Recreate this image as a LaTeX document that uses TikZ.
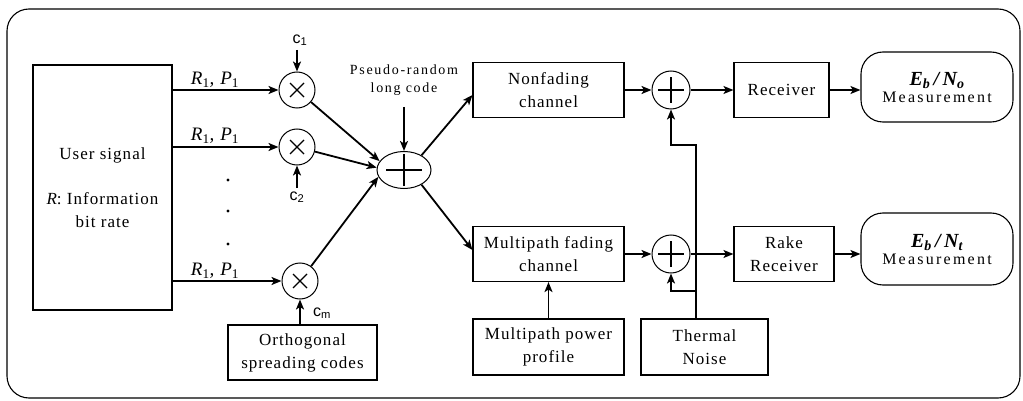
\documentclass[tikz,border=0pt]{standalone}
\usepackage{fontspec}
\setmainfont{Liberation Serif}[LetterSpace=6]
\newfontfamily\widefont{Liberation Serif}[LetterSpace=12]
\newfontfamily\msfont{Liberation Serif}[LetterSpace=14]
\newfontfamily\cfont{Liberation Sans}
\usetikzlibrary{arrows.meta,shapes.geometric}
\begin{document}
\begin{tikzpicture}[x=1pt,y=-1pt,
  box/.style={draw,line width=1.1pt,inner sep=0pt,align=center,font=\fontsize{17}{23}\selectfont},
  arr/.style={line width=1.8pt,-{Stealth[length=10pt,width=8pt,inset=2.5pt]}},
  mul/.style={draw,circle,line width=1pt,minimum size=36pt,inner sep=0pt},
  sum/.style={draw,circle,line width=1pt,minimum size=38pt,inner sep=0pt},
  meas/.style={draw,rounded corners=22pt,line width=1.1pt,minimum width=152pt,inner sep=0pt,align=center,font=\fontsize{16}{17}\selectfont},
  sym/.style={line width=1.4pt},
  rp/.style={font=\itshape\fontsize{19}{19}\selectfont},
  clab/.style={font=\cfont\fontsize{16}{16}\selectfont},
  dotn/.style={circle,fill,inner sep=0pt,minimum size=3.4pt},
]
\useasboundingbox (0,0) rectangle (1023,401);
\draw[line width=1.1pt,rounded corners=22pt] (7,9) rectangle (1020,398);

% boxes
\node[box,minimum width=139pt,minimum height=245pt] (user) at (102.5,187.5) {User signal\\[22pt]{\itshape R}: Information\\bit rate};
\node[box,minimum width=149pt,minimum height=55pt] (orth) at (302.5,352.5) {Orthogonal\\spreading codes};
\node[box,minimum width=151pt,minimum height=55pt] (nonf) at (548.5,90) {Nonfading\\channel};
\node[box,minimum width=151pt,minimum height=55pt] (multi) at (548.5,254) {Multipath fading\\channel};
\node[box,minimum width=151pt,minimum height=56pt] (prof) at (548.5,347) {Multipath power\\profile};
\node[box,minimum width=127pt,minimum height=56pt] (therm) at (704.5,347) {Thermal\\Noise};
\node[box,minimum width=95pt,minimum height=55pt] (recv) at (781.5,90) {Receiver};
\node[box,minimum width=100pt,minimum height=55pt] (rake) at (784,254) {Rake\\Receiver};
\node[meas,minimum height=70pt] (me1) at (937,87) {{\bfseries\itshape\fontsize{20}{20}\selectfont E\textsubscript{b}\,/\,N\textsubscript{o}}\\{\msfont Measurement}};
\node[meas,minimum height=72pt] (me2) at (937,249) {{\bfseries\itshape\fontsize{20}{20}\selectfont E\textsubscript{b}\,/\,N\textsubscript{t}}\\{\msfont Measurement}};

% multipliers and adders
\node[mul] (m1) at (297,90) {};
\node[mul] (m2) at (297,147) {};
\node[mul] (mm) at (300,281) {};
\node[draw,ellipse,line width=1pt,minimum width=54pt,minimum height=37pt,inner sep=0pt] (add) at (404,170) {};
\node[sum] (a1) at (671,90) {};
\node[sum] (a2) at (671,254) {};

\foreach \n in {m1,m2,mm}{
  \draw[sym] ([shift={(-7pt,-7pt)}]\n.center) -- ([shift={(7pt,7pt)}]\n.center);
  \draw[sym] ([shift={(-7pt,7pt)}]\n.center) -- ([shift={(7pt,-7pt)}]\n.center);
}
\foreach \n in {a1,a2}{
  \draw[sym] ([xshift=-13pt]\n.center) -- ([xshift=13pt]\n.center);
  \draw[sym] ([yshift=-13pt]\n.center) -- ([yshift=13pt]\n.center);
}
\draw[sym] ([xshift=-18pt]add.center) -- ([xshift=18pt]add.center);
\draw[sym] ([yshift=-16pt]add.center) -- ([yshift=16pt]add.center);

% labels
\node[rp] (l1) at (215,80) {R\textsubscript{\upshape 1}, P\textsubscript{\upshape 1}};
\node[rp] (l2) at (215,136) {R\textsubscript{\upshape 1}, P\textsubscript{\upshape 1}};
\node[rp] (l3) at (215,271) {R\textsubscript{\upshape 1}, P\textsubscript{\upshape 1}};
\node[clab] (c1) at (300,40) {c\textsubscript{1}};
\node[clab] (c2) at (297,197) {c\textsubscript{2}};
\node[clab] (cm) at (322,313) {c\textsubscript{m}};
\node[font=\widefont\fontsize{14}{18}\selectfont,align=center] (pnl) at (404,80) {Pseudo-random\\long code};
\node[dotn] (d1) at (228,180) {};
\node[dotn] (d2) at (228,211) {};
\node[dotn] (d3) at (228,244) {};

\coordinate (c1s) at (297,50);
\coordinate (c2s) at (297,188);
\coordinate (pns) at (404,107);
\coordinate (tk1) at (696,145);
\coordinate (tk2) at (696,291);

% connectors
\draw[arr] (user.east |- m1) -- (m1.west);
\draw[arr] (user.east |- m2) -- (m2.west);
\draw[arr] (user.east |- mm) -- (mm.west);
\draw[arr] (c1s) -- (m1.north);
\draw[arr] (c2s) -- (m2.south);
\draw[arr] (orth.north -| mm) -- (mm.south);
\draw[arr] (m1) -- (add.160);
\draw[arr] (m2) -- (add.175);
\draw[arr] (mm) -- (add.195);
\draw[arr] (pns) -- (add.north);
\draw[arr] (add.40) -- ([yshift=-5pt]nonf.west);
\draw[arr] (add.-40) -- ([yshift=4pt]multi.west);
\draw[arr] (nonf.east) -- (a1.west);
\draw[arr] (a1.east) -- (recv.west);
\draw[arr] (recv.east) -- (recv.east -| me1.west);
\draw[arr] (multi.east) -- (a2.west);
\draw[arr] (a2.east) -- (rake.west);
\draw[arr] (rake.east) -- (rake.east -| me2.west);
\draw[arr] (prof.north) -- (multi.south);
\draw[arr] (therm.north -| tk1) -- (tk1) -| (a1.south);
\draw[arr] (tk2) -| (a2.south);
\end{tikzpicture}
\end{document}
